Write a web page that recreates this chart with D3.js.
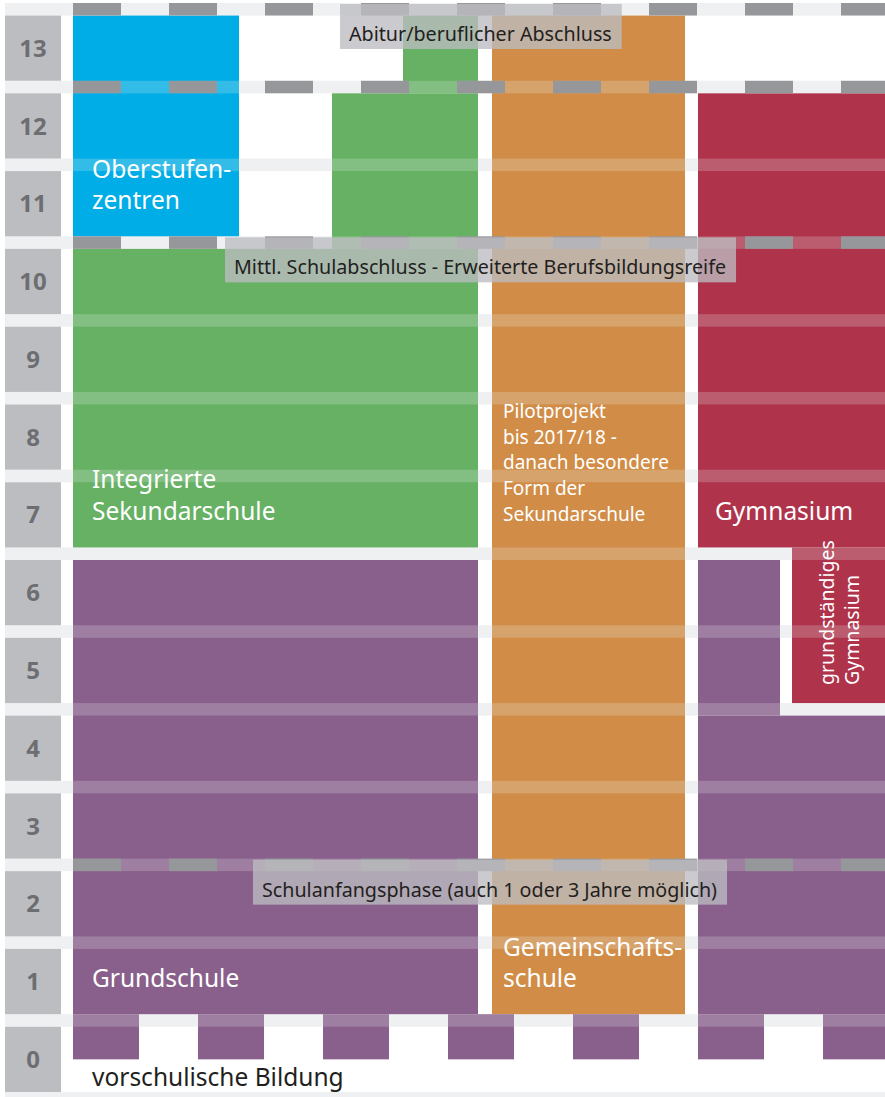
<!DOCTYPE html>
<html>
<head>
<meta charset="utf-8">
<script src="https://cdn.jsdelivr.net/npm/d3@7"></script>
<style>
  body { margin: 0; background: #fff; }
  svg { display: block; }
  text { font-family: "Noto Sans", "Open Sans", sans-serif; }
</style>
</head>
<body>
<svg id="chart"></svg>
<script>
// Grades (Jahrgangsstufen) shown on the left
const grades = d3.range(0, 14);

// School segments: school type, first grade, last grade, lane
const segSchool = ['Oberstufenzentren', 'Integrierte Sekundarschule', 'Integrierte Sekundarschule', 'Integrierte Sekundarschule',
  'Gemeinschaftsschule', 'Gymnasium', 'Gymnasium', 'Grundschule', 'Grundschule', 'Grundschule'];
const segFrom = [11, 7, 11, 13, 1, 7, 5, 1, 1, 5];
const segTo = [13, 10, 12, 13, 13, 12, 6, 6, 4, 6];
const segLane = ['osz', 'iss', 'issUpper', 'issTop', 'gms', 'gym', 'gymGrund', 'gsMain', 'gsRight', 'gsRight56'];

// Milestones placed on grade boundaries
const milestoneText = ['Abitur/beruflicher Abschluss',
  'Mittl. Schulabschluss - Erweiterte Berufsbildungsreife',
  'Schulanfangsphase (auch 1 oder 3 Jahre möglich)'];
const milestoneAt = [14, 11, 3];
const dashedAt = [14, 13, 11, 3];

// Layout
const width = 885, height = 1097;
const bandH = 12.5;
const lanes = {
  osz: { x0: 73, x1: 239 },
  iss: { x0: 73, x1: 478 },
  issUpper: { x0: 332, x1: 478, joinBottom: true },
  issTop: { x0: 403, x1: 478, joinBottom: true },
  gms: { x0: 492, x1: 685 },
  gym: { x0: 698, x1: 885 },
  gymGrund: { x0: 792, x1: 885, joinTop: true },
  gsMain: { x0: 73, x1: 478 },
  gsRight: { x0: 698, x1: 885 },
  gsRight56: { x0: 698, x1: 780, joinBottom: true }
};
const milestoneX = [340, 225, 253];

const color = d3.scaleOrdinal()
  .domain(['Oberstufenzentren', 'Integrierte Sekundarschule', 'Gemeinschaftsschule', 'Gymnasium', 'Grundschule'])
  .range(['#00ade6', '#66b163', '#d18d47', '#af334b', '#895f8b']);

const yScale = d3.scaleLinear().domain([14, 0]).range([3, 1092]);
const rowH = yScale(0) - yScale(1) - bandH;

const svg = d3.select('#chart')
  .attr('width', width)
  .attr('height', height);

// Light separator bands between grades
svg.append('g').selectAll('rect')
  .data(d3.range(0, 15))
  .join('rect')
  .attr('x', 5).attr('y', d => yScale(d))
  .attr('width', width - 5).attr('height', bandH)
  .attr('fill', '#eff0f2');

// Grade boxes
const rows = svg.append('g').selectAll('g')
  .data(grades)
  .join('g');
rows.append('rect')
  .attr('x', 5).attr('y', d => yScale(d + 1) + bandH)
  .attr('width', 56).attr('height', rowH)
  .attr('fill', '#bcbdc1');
rows.append('text')
  .attr('x', 33).attr('y', d => yScale(d + 1) + bandH + rowH / 2)
  .attr('dy', '0.36em')
  .attr('text-anchor', 'middle')
  .attr('font-size', 24).attr('font-weight', 700)
  .attr('fill', '#6d6e71')
  .text(d => d);

// School blocks
const segs = segSchool.map((s, i) => ({ school: s, from: segFrom[i], to: segTo[i], lane: lanes[segLane[i]] }));
svg.append('g').selectAll('rect')
  .data(segs)
  .join('rect')
  .attr('x', d => d.lane.x0)
  .attr('width', d => d.lane.x1 - d.lane.x0)
  .attr('y', d => yScale(d.to + 1) + (d.lane.joinTop ? 0 : bandH))
  .attr('height', d => (yScale(d.from) + (d.lane.joinBottom ? bandH : 0)) - (yScale(d.to + 1) + (d.lane.joinTop ? 0 : bandH)))
  .attr('fill', d => color(d.school));

// Vorschulische Bildung pattern in grade 0
svg.append('g').selectAll('rect')
  .data(d3.range(73, width, 125))
  .join('rect')
  .attr('x', d => d)
  .attr('y', yScale(1))
  .attr('width', d => Math.min(66, width - d))
  .attr('height', bandH + rowH / 2)
  .attr('fill', color('Grundschule'));

// Translucent bands over the blocks
svg.append('g').selectAll('rect')
  .data(d3.range(0, 15))
  .join('rect')
  .attr('x', 5).attr('y', d => yScale(d))
  .attr('width', width - 5).attr('height', bandH)
  .attr('fill', '#eff0f2').attr('opacity', 0.22);

// Dashed bands
dashedAt.forEach(v => {
  svg.append('g').selectAll('rect')
    .data(d3.range(73, width, 96))
    .join('rect')
    .attr('x', d => d).attr('y', yScale(v))
    .attr('width', d => Math.min(48, width - d)).attr('height', bandH)
    .attr('fill', '#96979b');
});

// Milestone labels
milestoneText.forEach((t, i) => {
  const g = svg.append('g');
  const box = g.append('rect')
    .attr('x', milestoneX[i]).attr('y', yScale(milestoneAt[i]) + 1)
    .attr('height', 45)
    .attr('fill', '#bcbdc1').attr('opacity', 0.78);
  const txt = g.append('text')
    .attr('x', milestoneX[i] + 9).attr('y', yScale(milestoneAt[i]) + 38)
    .attr('font-size', 19.7).attr('fill', '#231f20')
    .text(t);
  box.attr('width', txt.node().getComputedTextLength() + 19);
});

// School names
function label(lines, x, y, size, lh, fill) {
  const t = svg.append('text')
    .attr('x', x).attr('y', y)
    .attr('font-size', size).attr('fill', fill || '#fff');
  lines.forEach((l, i) => t.append('tspan').attr('x', x).attr('dy', i ? lh : 0).text(l));
  return t;
}
label(['Oberstufen-', 'zentren'], 92, 178, 24.5, 31);
label(['Integrierte', 'Sekundarschule'], 92, 488, 24.5, 32);
label(['Pilotprojekt', 'bis 2017/18 -', 'danach besondere', 'Form der', 'Sekundarschule'], 503, 418, 19, 25.7);
label(['Gymnasium'], 715, 520, 24.5, 0);
label(['Gemeinschafts-', 'schule'], 503, 956, 24.5, 31);
label(['Grundschule'], 92, 987, 24.5, 0);
label(['vorschulische Bildung'], 92, 1086, 24.5, 0, '#231f20');

svg.append('text')
  .attr('transform', 'translate(834,685) rotate(-90)')
  .attr('font-size', 19.5).attr('fill', '#fff')
  .text('grundständiges');
svg.append('text')
  .attr('transform', 'translate(859,685) rotate(-90)')
  .attr('font-size', 19.5).attr('fill', '#fff')
  .text('Gymnasium');
</script>
</body>
</html>
